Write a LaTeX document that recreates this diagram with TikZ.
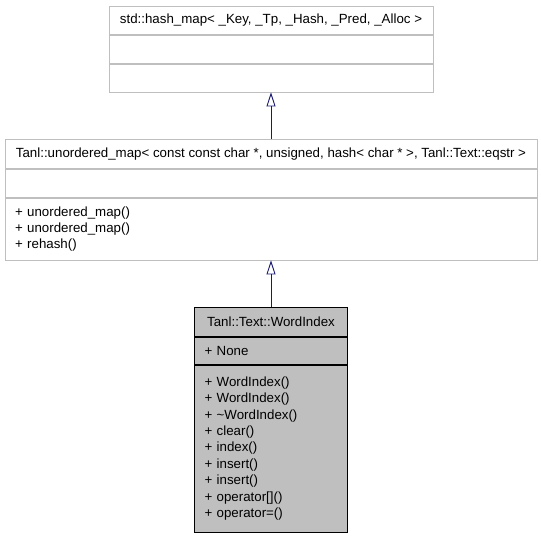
\documentclass[tikz,border=0pt]{standalone}
\usepackage{fontspec}
\setmainfont{Liberation Sans}
\usetikzlibrary{arrows.meta, positioning}
\definecolor{edgeblue}{HTML}{191970}

\begin{document}
\begin{tikzpicture}[
  x=1pt, y=-1pt,
  every node/.style={font=\fontsize{13.3}{16.4}\selectfont},
  part/.style={draw=gray!50, rectangle, line width=0.8pt, inner sep=0pt, anchor=north},
  list part/.style={part, align=left, inner xsep=10pt},
  cls part/.style={draw=black, fill=gray!50},
  inherit/.style={-{Triangle[open, length=14pt, width=9pt]}, draw=edgeblue, line width=0.9pt}
]
  \useasboundingbox (0,0) rectangle (541,536);

  % std::hash_map
  \node[part, minimum width=324pt, minimum height=28pt] (map title) at (271,6)
    {std::hash\_map< \_Key, \_Tp, \_Hash, \_Pred, \_Alloc >};
  \node[part, minimum width=324pt, minimum height=28pt, below=0pt of map title] (map attr) {};
  \node[part, minimum width=324pt, minimum height=28pt, below=0pt of map attr] (map ops) {};

  % Tanl::unordered_map
  \node[part, minimum width=532pt, minimum height=29pt] (mid title) at (271,139)
    {Tanl::unordered\_map< const const char *, unsigned, hash< char * >, Tanl::Text::eqstr >};
  \node[part, minimum width=532pt, minimum height=28pt, below=0pt of mid title] (mid attr) {};
  \node[list part, text width=512pt, minimum height=62pt, below=0pt of mid attr] (mid ops)
    {+ unordered\_map()\\+ unordered\_map()\\+ rehash()};

  % Tanl::Text::WordIndex
  \node[part, cls part, minimum width=153pt, minimum height=29pt] (wi title) at (271,307)
    {Tanl::Text::WordIndex};
  \node[list part, cls part, text width=133pt, minimum height=27pt, below=0pt of wi title] (wi attr)
    {+ None};
  \node[list part, cls part, text width=133pt, minimum height=167pt, below=0pt of wi attr] (wi ops)
    {+ WordIndex()\\+ WordIndex()\\+ \textasciitilde WordIndex()\\+ clear()\\+ index()\\
     + insert()\\+ insert()\\+ operator[]()\\+ operator=()};

  % Inheritance
  \foreach \child/\parent in {mid title/map ops, wi title/mid ops} {
    \draw[inherit] (\child.north) -- (\parent.south);
  }
\end{tikzpicture}
\end{document}
